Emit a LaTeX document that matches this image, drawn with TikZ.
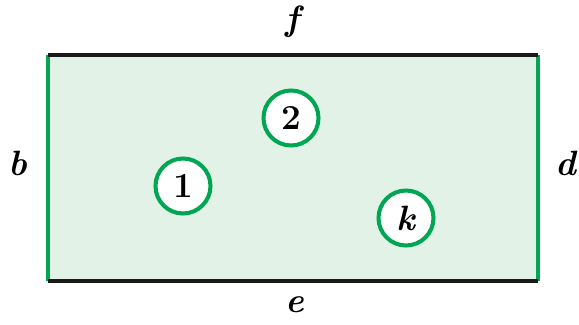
\documentclass[tikz,border=0pt]{standalone}
\usetikzlibrary{positioning}
\definecolor{edgegreen}{HTML}{00A651}
\definecolor{regionfill}{HTML}{E2F2E6}
\tikzset{
  every node/.style={font=\fontsize{20}{23}\selectfont\bfseries},
  greenedge/.style={draw=edgegreen,line width=1.8pt},
  blackedge/.style={draw=black!90,line width=1.8pt},
  hole/.style={circle,draw=edgegreen,line width=2.3pt,fill=white,minimum size=1.1cm,inner sep=0pt},
  sidelabel/.style={font=\fontsize{20}{23}\selectfont\bfseries\itshape}}
\begin{document}
\begin{tikzpicture}[x=0.02cm,y=-0.02cm]
\useasboundingbox (0,0) rectangle (579,325);
% region and its four sides
\coordinate (tl) at (48,55);
\coordinate (tr) at (538,55);
\coordinate (br) at (538,281);
\coordinate (bl) at (48,281);
\fill[regionfill] (tl) rectangle (br);
\draw[greenedge] (tl)--(bl) (tr)--(br);
\draw[blackedge] (tl)--(tr) (bl)--(br);
% holes
\node[hole] (h1) at (183,186) {1};
\node[hole] (h2) at (291,118) {2};
\node[hole] (hk) at (406,218) {\itshape k};
% side labels
\node[sidelabel] (f) at (293,22) {f};
\node[sidelabel] (b) at (18,163) {b};
\node[sidelabel] (d) at (566,163) {d};
\node[sidelabel] (e) at (295,305) {e};
\end{tikzpicture}
\end{document}
